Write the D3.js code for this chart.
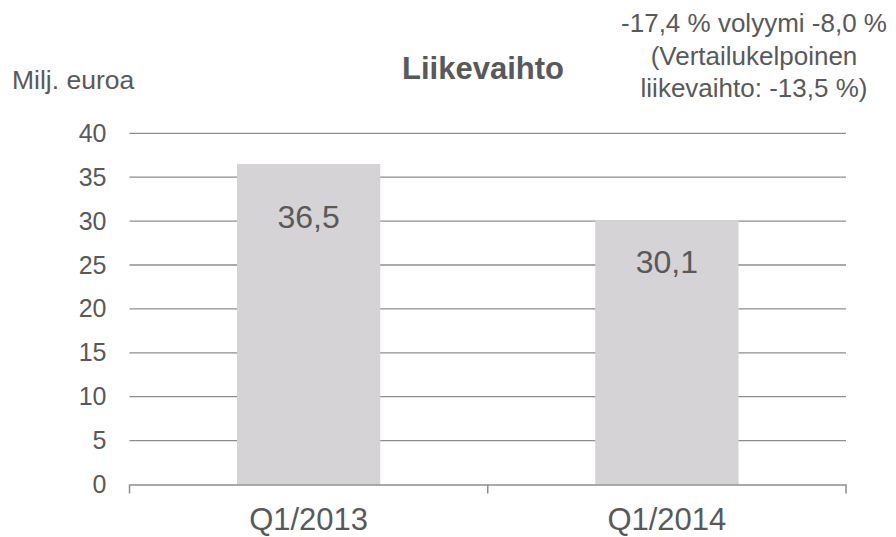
<!DOCTYPE html>
<html>
<head>
<meta charset="utf-8">
<script src="https://cdn.jsdelivr.net/npm/d3@7"></script>
<style>
  body { margin: 0; background: #fff; }
  text { font-family: "Liberation Sans", Arial, sans-serif; fill: #595959; }
</style>
</head>
<body>
<div id="chart"></div>
<script>
// data
var categories = ["Q1/2013", "Q1/2014"];
var values = [36.5, 30.1];
var labels = ["36,5", "30,1"];
var yTicks = [0, 5, 10, 15, 20, 25, 30, 35, 40];
var titleText = "Liikevaihto";
var unitText = "Milj. euroa";
var noteLines = ["-17,4 % volyymi -8,0 %", "(Vertailukelpoinen", "liikevaihto: -13,5 %)"];

var width = 896, height = 537;
var plotLeft = 129.5, plotRight = 846, plotTop = 133.3, plotBottom = 484.5;

var svg = d3.select("#chart").append("svg")
	.attr("width", width)
	.attr("height", height);

var x = d3.scaleBand()
	.domain(categories)
	.range([plotLeft, plotRight])
	.paddingInner(0.6)
	.paddingOuter(0.3);
var y = d3.scaleLinear()
	.domain([0, 40])
	.range([plotBottom, plotTop]);

//gridlines
svg.append("g").selectAll("line")
	.data(yTicks.filter(function(d){ return d > 0; }))
	.enter().append("line")
	.attr("x1", plotLeft)
	.attr("x2", plotRight)
	.attr("y1", function(d){ return y(d); })
	.attr("y2", function(d){ return y(d); })
	.attr("stroke", "#8e8e8e")
	.attr("stroke-width", 1.3);

//y axis labels
var yAxis = svg.append("g")
	.attr("transform", "translate(" + plotLeft + ",0)")
	.call(d3.axisLeft(y).tickValues(yTicks).tickSize(0).tickPadding(23));
yAxis.select(".domain").remove();
yAxis.selectAll("text")
	.attr("fill", null)
	.attr("font-family", null)
	.style("font-size", "25px");

//bars
svg.selectAll(".bar")
	.data(values)
	.enter().append("rect")
	.attr("class", "bar")
	.attr("x", function(d, i){ return x(categories[i]); })
	.attr("width", x.bandwidth())
	.attr("y", function(d){ return y(d); })
	.attr("height", function(d){ return plotBottom - y(d); })
	.attr("fill", "#d5d3d5");

//bar labels
svg.selectAll(".lbl")
	.data(values)
	.enter().append("text")
	.attr("class", "lbl")
	.attr("x", function(d, i){ return x(categories[i]) + x.bandwidth() / 2; })
	.attr("y", function(d){ return y(d * 0.8); })
	.attr("text-anchor", "middle")
	.style("font-size", "32px")
	.text(function(d, i){ return labels[i]; });

//x axis
var xAxis = svg.append("g")
	.attr("transform", "translate(0," + plotBottom + ")")
	.call(d3.axisBottom(x).tickSize(0).tickPadding(23));
xAxis.select(".domain")
	.attr("stroke", "#8e8e8e")
	.attr("stroke-width", 1.5);
xAxis.selectAll("text")
	.attr("fill", null)
	.attr("font-family", null)
	.style("font-size", "31px");
// category boundary ticks
var mid = (x(categories[0]) + x.bandwidth() + x(categories[1])) / 2;
svg.append("g").selectAll("line")
	.data([plotLeft, mid, plotRight])
	.enter().append("line")
	.attr("x1", function(d){ return d; })
	.attr("x2", function(d){ return d; })
	.attr("y1", plotBottom)
	.attr("y2", plotBottom + 9)
	.attr("stroke", "#8e8e8e")
	.attr("stroke-width", 1.5);

//titles
svg.append("text")
	.attr("x", 483)
	.attr("y", 79)
	.attr("text-anchor", "middle")
	.style("font-size", "31px")
	.style("font-weight", "bold")
	.text(titleText);
svg.append("text")
	.attr("x", 12)
	.attr("y", 89)
	.style("font-size", "26.5px")
	.text(unitText);
svg.append("g").selectAll("text")
	.data(noteLines)
	.enter().append("text")
	.attr("x", 754)
	.attr("y", function(d, i){ return 32 + i * 32.5; })
	.attr("text-anchor", "middle")
	.style("font-size", "26px")
	.text(function(d){ return d; });
</script>
</body>
</html>
